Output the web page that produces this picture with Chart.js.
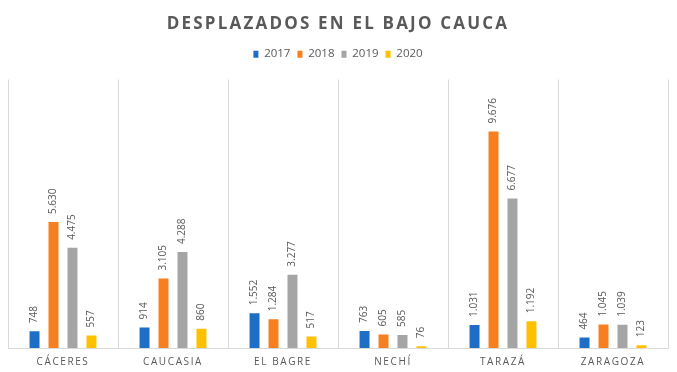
<!DOCTYPE html>
<html>
<head>
<meta charset="utf-8">
<script src="https://cdn.jsdelivr.net/npm/chart.js@4"></script>
<style>
html,body{margin:0;padding:0;background:#fff;}
canvas{display:block;}
</style>
</head>
<body>
<canvas id="c" width="677" height="372"></canvas>
<script>
const categories = ['CÁCERES', 'CAUCASIA', 'EL BAGRE', 'NECHÍ', 'TARAZÁ', 'ZARAGOZA'];
const seriesNames = ['2017', '2018', '2019', '2020'];
const values2017 = [748, 914, 1552, 763, 1031, 464];
const values2018 = [5630, 3105, 1284, 605, 9676, 1045];
const values2019 = [4475, 4288, 3277, 585, 6677, 1039];
const values2020 = [557, 860, 517, 76, 1192, 123];
const seriesColors = ['#1F6EC6', '#F77F1F', '#A5A5A5', '#FFC000'];
const chartTitle = 'DESPLAZADOS EN EL BAJO CAUCA';

const FONT = "'Open Sans', sans-serif";
const TEXT = '#595959';

function fmt(v) { return String(v).replace(/\B(?=(\d{3})+(?!\d))/g, '.'); }

function withSpacing(chart, obj, method, sp) {
  if (!obj || obj['_ls_' + method]) return;
  const d = obj[method];
  obj[method] = function () {
    const ctx = chart.ctx;
    const prev = ctx.letterSpacing;
    ctx.letterSpacing = sp;
    const r = d.apply(this, arguments);
    ctx.letterSpacing = prev || '0px';
    return r;
  };
  obj['_ls_' + method] = true;
}

const spacingPlugin = {
  id: 'spacing',
  beforeLayout(chart) {
    if (chart.legend && !chart.legend._patched) {
      const lg = chart.legend;
      const f = lg.fit;
      lg.fit = function () { f.call(this); this.height += 9.6; };
      lg._patched = true;
    }
  },
  afterLayout(chart) {
    withSpacing(chart, chart.titleBlock, 'draw', '2.2px');
    withSpacing(chart, chart.scales.x, 'drawLabels', '1.6px');
    withSpacing(chart, chart.scales.x, 'draw', '1.6px');
  }
};

const labelPlugin = {
  id: 'barLabels',
  afterDatasetsDraw(chart) {
    const ctx = chart.ctx;
    ctx.save();
    ctx.font = "10px " + FONT;
    ctx.fillStyle = TEXT;
    ctx.textAlign = 'left';
    ctx.textBaseline = 'middle';
    chart.data.datasets.forEach((ds, i) => {
      const meta = chart.getDatasetMeta(i);
      meta.data.forEach((bar, j) => {
        ctx.save();
        ctx.translate(bar.x, bar.y - 8);
        ctx.rotate(-Math.PI / 2);
        ctx.fillText(fmt(ds.data[j]), 0, 0);
        ctx.restore();
      });
    });
    ctx.restore();
  }
};

const allValues = [values2017, values2018, values2019, values2020];

new Chart(document.getElementById('c'), {
  type: 'bar',
  data: {
    labels: categories,
    datasets: seriesNames.map((n, i) => ({
      label: n,
      data: allValues[i],
      backgroundColor: seriesColors[i],
      borderWidth: 0,
      categoryPercentage: 0.69,
      barPercentage: 0.526
    }))
  },
  options: {
    responsive: false,
    animation: false,
    devicePixelRatio: 1,
    layout: { padding: { left: 8, right: 9, top: 0, bottom: -4 } },
    plugins: {
      title: {
        display: true,
        text: chartTitle,
        color: TEXT,
        font: { family: FONT, size: 17, weight: 'bold', lineHeight: 1.2 },
        padding: { top: 13.5, bottom: 7.5 }
      },
      legend: {
        display: true,
        position: 'top',
        labels: {
          color: TEXT,
          font: { family: FONT, size: 11.5 },
          boxWidth: 5,
          boxHeight: 7,
          padding: 7
        }
      },
      tooltip: { enabled: false }
    },
    scales: {
      x: {
        grid: { display: true, color: '#D9D9D9', drawTicks: false, offset: true },
        border: { display: true, color: '#D9D9D9' },
        ticks: {
          color: TEXT,
          font: { family: FONT, size: 10 },
          padding: 8,
          autoSkip: false,
          maxRotation: 0
        }
      },
      y: {
        display: false,
        min: 0,
        max: 12000
      }
    }
  },
  plugins: [spacingPlugin, labelPlugin]
});
</script>
</body>
</html>
